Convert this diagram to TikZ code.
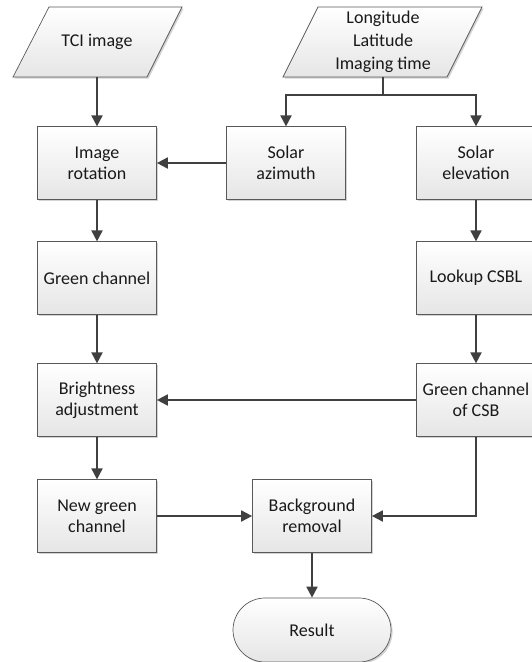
\documentclass[tikz,border=0pt]{standalone}
\usepackage{fontspec}
\setmainfont{Carlito}
\usetikzlibrary{positioning, arrows.meta, shapes.misc, shadows}

\begin{document}
\begin{tikzpicture}[
        x=1pt, y=-1pt,
        look/.style={draw=black!65, line width=0.7pt, top color=white, bottom color=black!10,
                     drop shadow={shadow xshift=1.6pt, shadow yshift=-1.6pt, opacity=0.35}},
        base/.style={look, font=\fontsize{18}{21}\selectfont, text=black!90, align=center, inner sep=2pt},
        procbox/.style={base, rectangle, minimum width=119pt, minimum height=72.5pt},
        inshape/.style={look},
        intext/.style={font=\fontsize{18}{23}\selectfont, text=black!90, align=center,
                       minimum height=70pt, inner sep=0pt},
        endbox/.style={base, rounded rectangle, minimum width=162pt, minimum height=64pt},
        flow/.style={draw=black!75, line width=1.8pt, -{Triangle[length=11pt, width=11pt]}},
    ]
    \useasboundingbox (0,0) rectangle (531,662);
    % inputs
    \path[inshape] (13,77) -- (49,7) -- (182,7) -- (147,77) -- cycle;
    \node[intext] (tci) at (97,42) {TCI image};
    \path[inshape] (283,77) -- (318,7) -- (482,7) -- (447,77) -- cycle;
    \node[intext] (geo) at (383,42) {Longitude\\Latitude\\Imaging time};
    % processing steps
    \node[procbox] (rot)    at (97,163)  {Image\\rotation};
    \node[procbox] (azi)    at (286,163) {Solar\\azimuth};
    \node[procbox] (elev)   at (476,163) {Solar\\elevation};
    \node[procbox] (green)  at (97,278)  {Green channel};
    \node[procbox] (lookup) at (476,278) {Lookup CSBL};
    \node[procbox] (bright) at (97,400)  {Brightness\\adjustment};
    \node[procbox] (csb)    at (476,400) {Green channel\\of CSB};
    \node[procbox] (newg)   at (97,516)  {New green\\channel};
    \node[procbox] (bgr)    at (312,516) {Background\\removal};
    \node[endbox]  (result) at (312,630) {Result};
    \coordinate (split) at (383,95);
    % connectors
    \draw[flow] (tci) -- (rot);
    \draw[draw=black!75, line width=1.8pt] (geo.south) -- (split);
    \draw[flow] (split) -| (azi.north);
    \draw[flow] (split) -| (elev.north);
    \draw[flow] (azi) -- (rot);
    \draw[flow] (rot) -- (green);
    \draw[flow] (green) -- (bright);
    \draw[flow] (elev) -- (lookup);
    \draw[flow] (lookup) -- (csb);
    \draw[flow] (csb) -- (bright);
    \draw[flow] (bright) -- (newg);
    \draw[flow] (newg) -- (bgr);
    \draw[flow] (csb.south) |- (bgr.east);
    \draw[flow] (bgr) -- (result);
\end{tikzpicture}
\end{document}
